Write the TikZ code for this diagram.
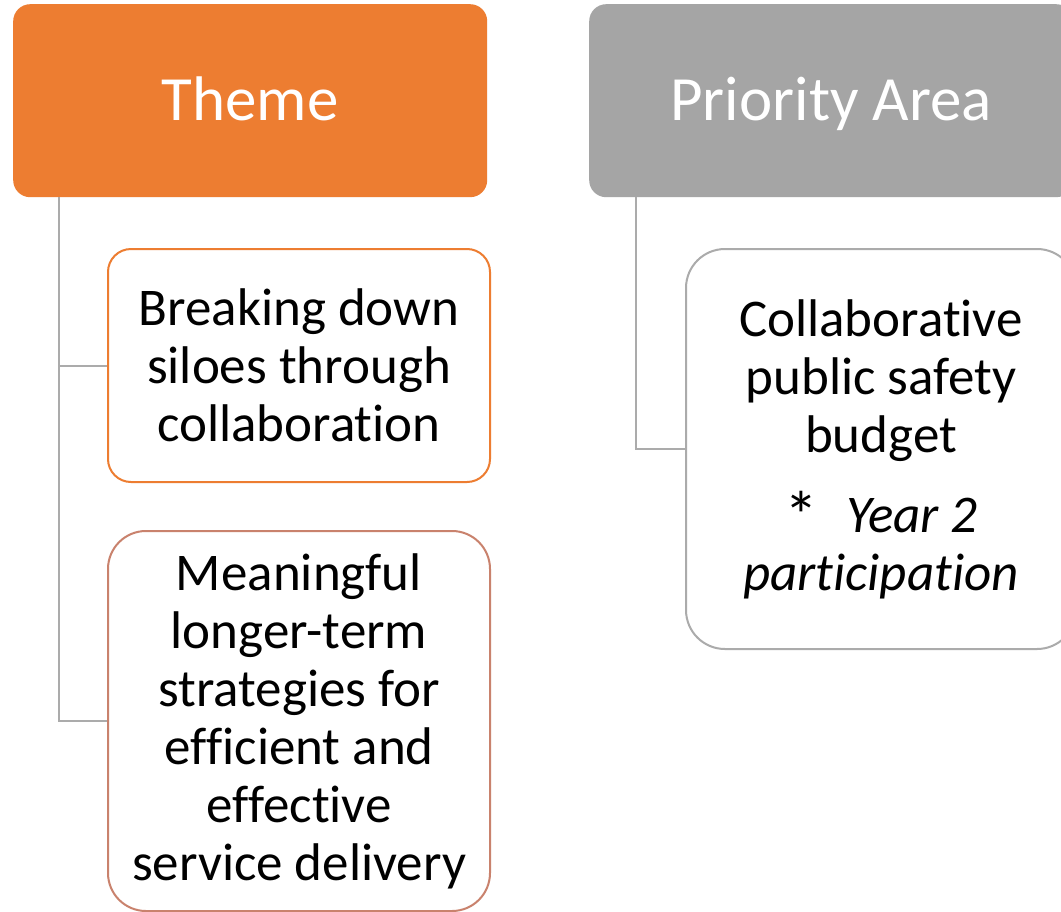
\documentclass[tikz,border=0pt]{standalone}
\usepackage{fontspec}
\setmainfont{Carlito}[Ligatures={NoCommon,NoRare,NoDiscretionary}]
\newcommand\nolg{\kern0pt }
\definecolor{themeorange}{HTML}{ED7D31}
\definecolor{themegrey}{HTML}{A5A5A5}
\definecolor{boxbrown}{HTML}{C9826D}
\definecolor{linegrey}{HTML}{ABABAB}
\tikzset{
  titlebox/.style={draw=none, rounded corners=17bp, anchor=north west,
    text=white, font=\fontsize{63bp}{70bp}\selectfont, inner sep=0pt,
    text height=40bp, text depth=0pt},
  itembox/.style={fill=white, line width=2bp, anchor=north west, inner sep=0pt,
    align=center, font=\fontsize{53bp}{58bp}\selectfont},
  conn/.style={draw=linegrey, line width=2bp}
}
\begin{document}
\begin{tikzpicture}[x=1bp,y=-1bp]
\useasboundingbox (0,0) rectangle (1061,912);
\fill[white] (0,0) rectangle (1061,912);
% title boxes
\node[titlebox, fill=themeorange, minimum width=474bp, minimum height=193bp] (theme) at (13,4) {Theme};
\node[titlebox, fill=themegrey, minimum width=484bp, minimum height=193bp] (prio) at (589,4) {Priority Area};
% item boxes
\node[itembox, draw=themeorange, rounded corners=23bp, minimum width=382bp, minimum height=233bp] (b1) at (107,248)
  {Breaking down\\siloes through\\collaborat\nolg ion};
\node[itembox, draw=boxbrown, rounded corners=38bp, minimum width=382bp, minimum height=380bp] (b2) at (107,530)
  {Meaningful\\longer-term\\strategies for\\ef\nolg f\nolg icient and\\ef\nolg fect\nolg ive\\service delivery};
\node[itembox, draw=linegrey, rounded corners=39bp, minimum width=390bp, minimum height=400bp] (b3) at (685,248)
  {Collaborat\nolg ive\\public safety\\budget\\[22bp]\raisebox{-7bp}{\fontsize{68bp}{58bp}\selectfont*}\hspace{0.3em} \textit{Year 2}\\\textit{part\nolg icipat\nolg ion}};
% connectors
\coordinate (tstem) at ([xshift=46bp]theme.south west);
\coordinate (pstem) at ([xshift=47bp]prio.south west);
\draw[conn] (tstem) |- (b1.west);
\draw[conn] (tstem) |- (b2.west);
\draw[conn] (pstem) |- (b3.west);
\end{tikzpicture}
\end{document}
